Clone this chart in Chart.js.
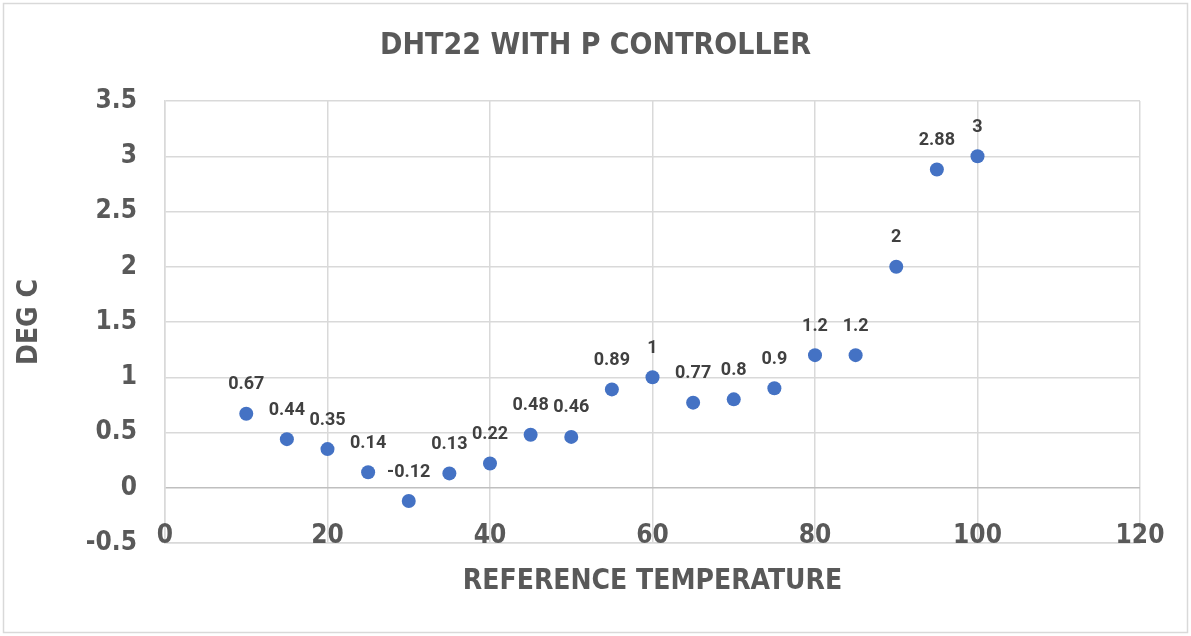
<!DOCTYPE html>
<html>
<head>
<meta charset="utf-8">
<script src="https://cdn.jsdelivr.net/npm/chart.js@4.4.0/dist/chart.umd.min.js"></script>
<style>
  html, body { margin: 0; padding: 0; background: #fff; }
  #wrap { width: 1191px; height: 636px; }
</style>
</head>
<body>
<div id="wrap"><canvas id="chart" width="1191" height="636"></canvas></div>
<script>
// data
const refTemp = [10, 15, 20, 25, 30, 35, 40, 45, 50, 55, 60, 65, 70, 75, 80, 85, 90, 95, 100];
const degC = [0.67, 0.44, 0.35, 0.14, -0.12, 0.13, 0.22, 0.48, 0.46, 0.89, 1, 0.77, 0.8, 0.9, 1.2, 1.2, 2, 2.88, 3];
const xTicks = [0, 20, 40, 60, 80, 100, 120];
const yTicks = [-0.5, 0, 0.5, 1, 1.5, 2, 2.5, 3, 3.5];
const chartTitle = 'DHT22 WITH P CONTROLLER';

const narrow = "'Liberation Sans Narrow', 'DejaVu Sans Condensed', 'Roboto', sans-serif";
const grey = '#595959';

// frame + title (centred on the whole canvas), x tick labels (sit over the
// bottom gridline like Excel's "low" labels), value labels above the points
const labelPlugin = {
    id: 'labels',
    beforeDraw(chart) {
        const ctx = chart.ctx;
        ctx.save();
        ctx.strokeStyle = '#d9d9d9';
        ctx.lineWidth = 1.5;
        ctx.strokeRect(3.5, 3.5, 1184, 629);
        ctx.font = "bold 30px " + narrow;
        ctx.fillStyle = grey;
        ctx.textAlign = 'center';
        ctx.textBaseline = 'middle';
        ctx.fillText(chartTitle, chart.width / 2, 46);
        ctx.restore();
    },
    afterDraw(chart) {
        const ctx = chart.ctx;
        const xs = chart.scales.x;
        ctx.save();
        ctx.font = "bold 26px " + narrow;
        ctx.fillStyle = grey;
        ctx.textAlign = 'center';
        ctx.textBaseline = 'middle';
        xTicks.forEach(v => {
            ctx.fillText(String(v), xs.getPixelForValue(v), chart.chartArea.bottom - 7);
        });
        ctx.restore();
    },
    afterDatasetsDraw(chart) {
        const ctx = chart.ctx;
        const meta = chart.getDatasetMeta(0);
        ctx.save();
        ctx.font = "bold 18px Roboto, sans-serif";
        ctx.fillStyle = '#404040';
        ctx.textAlign = 'center';
        ctx.textBaseline = 'middle';
        meta.data.forEach((pt, i) => {
            ctx.fillText(String(degC[i]), pt.x, pt.y - 29);
        });
        ctx.restore();
    }
};

const ctx = document.getElementById('chart').getContext('2d');
new Chart(ctx, {
    type: 'scatter',
    data: {
        datasets: [{
            label: 'DEG C',
            data: refTemp.map((x, i) => ({ x: x, y: degC[i] })),
            backgroundColor: '#4472C4',
            borderColor: '#4472C4',
            borderWidth: 0,
            pointRadius: 7,
            pointHoverRadius: 7
        }]
    },
    options: {
        responsive: false,
        animation: false,
        layout: { padding: { left: 0, right: 51, top: 101, bottom: 0 } },
        plugins: {
            legend: { display: false },
            tooltip: { enabled: false },
            title: { display: false }
        },
        scales: {
            x: {
                type: 'linear',
                min: 0,
                max: 120,
                afterBuildTicks: (s) => { s.ticks = xTicks.map(v => ({ value: v })); },
                afterFit: (s) => { s.height = 93; },
                grid: { color: '#d9d9d9', lineWidth: 1.5, drawTicks: false },
                border: { color: '#d9d9d9', width: 1.5 },
                ticks: { display: false },
                title: {
                    display: true,
                    text: 'REFERENCE TEMPERATURE',
                    color: grey,
                    font: { family: narrow, size: 28, weight: 'bold' },
                    padding: { top: 0, bottom: 37 }
                }
            },
            y: {
                type: 'linear',
                min: -0.5,
                max: 3.5,
                afterBuildTicks: (s) => { s.ticks = yTicks.map(v => ({ value: v })); },
                afterFit: (s) => { s.width = 165; },
                grid: {
                    color: (c) => c.tick && c.tick.value === 0 ? '#bfbfbf' : '#d9d9d9',
                    lineWidth: 1.5,
                    drawTicks: false
                },
                border: { color: '#d9d9d9', width: 1.5 },
                ticks: {
                    color: grey,
                    padding: 28,
                    callback: (v) => String(v),
                    font: { family: narrow, size: 26, weight: 'bold' }
                },
                title: {
                    display: true,
                    text: 'DEG C',
                    color: grey,
                    font: { family: narrow, size: 28, weight: 'bold' },
                    padding: { top: 13, bottom: 0 }
                }
            }
        }
    },
    plugins: [labelPlugin]
});
</script>
</body>
</html>
